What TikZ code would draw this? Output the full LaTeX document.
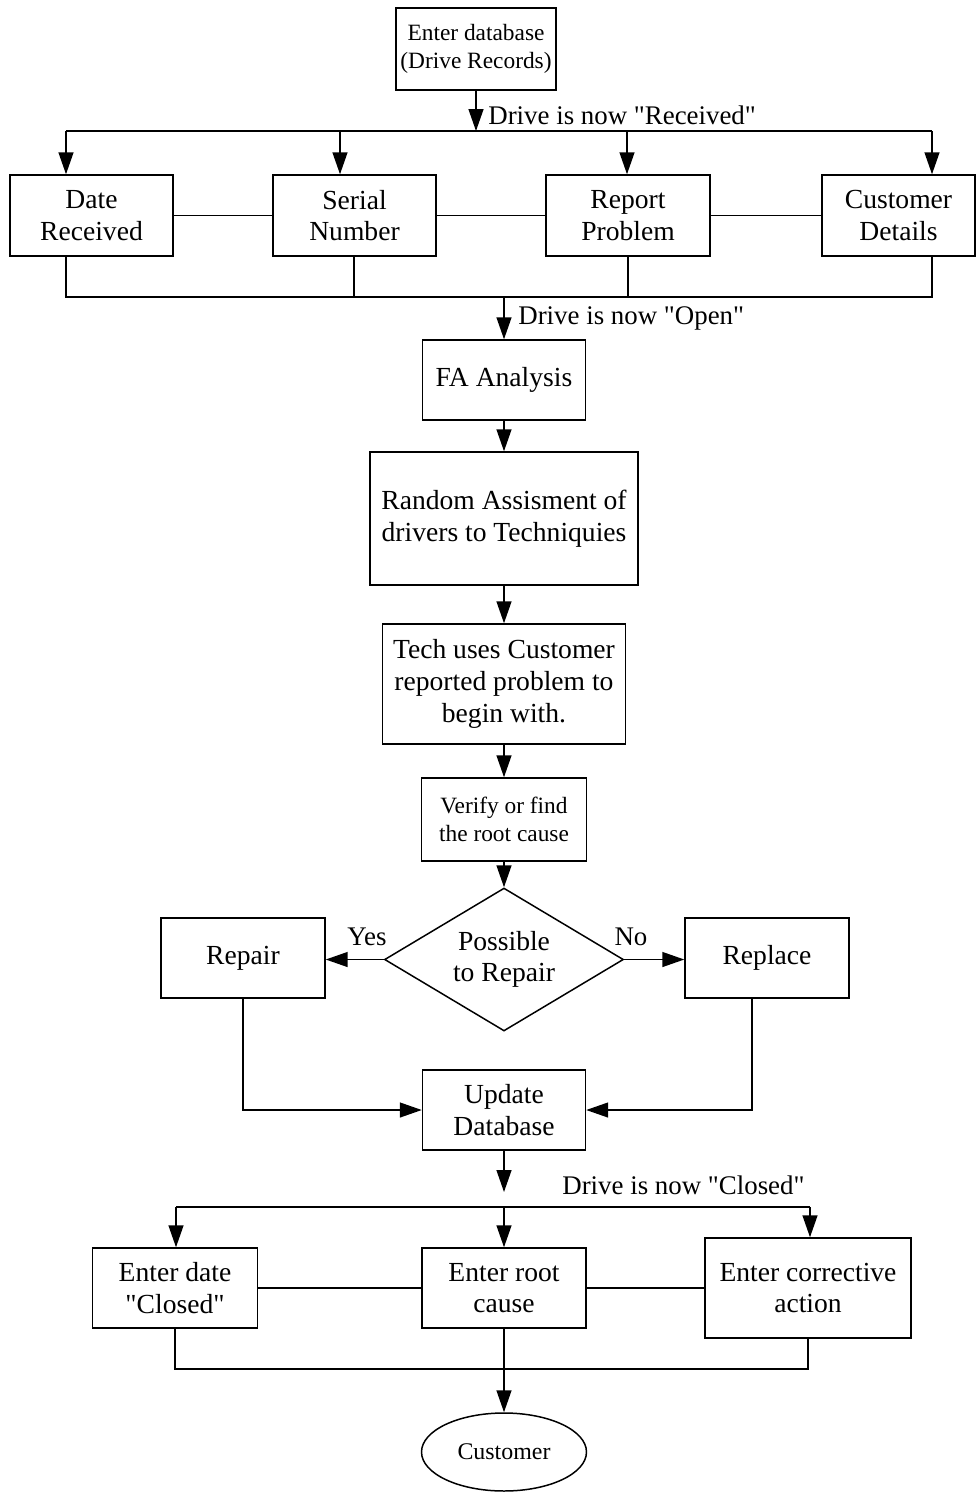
\documentclass[tikz,border=0pt]{standalone}
\usepackage{fontspec}
\setmainfont{Liberation Serif}[Ligatures=TeXOff]
\usetikzlibrary{shapes.geometric,arrows.meta}
\begin{document}
\begin{tikzpicture}[x=0.02cm,y=-0.02cm,
  box/.style={draw, line width=0.85pt, align=center, inner sep=0pt, font=\fontsize{15.7}{18}\selectfont},
  smallbox/.style={box, font=\fontsize{13.3}{15.6}\selectfont},
  ln/.style={line width=0.85pt},
  arr/.style={ln, -{Triangle[length=12.5pt,width=8.5pt]}},
  lbl/.style={font=\fontsize{15.3}{18}\selectfont, inner sep=0pt}]
\useasboundingbox (0,0) rectangle (976,1492);

% nodes
\node[smallbox, minimum width=3.2cm, minimum height=1.64cm] (db) at (476,49) {Enter database\\(Drive Records)};
\node[box, minimum width=3.26cm, minimum height=1.62cm] (dr) at (91.5,215.5) {Date\\Received};
\node[box, minimum width=3.26cm, minimum height=1.62cm] (sn) at (354.5,215.5) {Serial\\Number};
\node[box, minimum width=3.28cm, minimum height=1.62cm] (rp) at (628,215.5) {Report\\Problem};
\node[box, minimum width=3.06cm, minimum height=1.62cm] (cd) at (898.5,215.5) {Customer\\Details};
\node[box, minimum width=3.26cm, minimum height=1.6cm] (fa) at (504,380) {FA Analysis};
\node[box, minimum width=5.36cm, minimum height=2.66cm] (ra) at (504,518.5) {Random Assisment of\\drivers to Techniquies};
\node[box, minimum width=4.86cm, minimum height=2.4cm] (tu) at (504,684) {Tech uses Customer\\reported problem to\\begin with.};
\node[smallbox, minimum width=3.3cm, minimum height=1.66cm] (vf) at (504,819.5) {Verify or find\\the root cause};
\node[box, diamond, aspect=1.67, minimum width=4.78cm, minimum height=2.86cm] (dia) at (504,959.5) {Possible\\to Repair};
\node[box, minimum width=3.28cm, minimum height=1.6cm] (rep) at (243,958) {Repair};
\node[box, minimum width=3.28cm, minimum height=1.6cm] (rpl) at (767,958) {Replace};
\node[box, minimum width=3.26cm, minimum height=1.6cm] (ud) at (504,1110) {Update\\Database};
\node[box, minimum width=3.3cm, minimum height=1.6cm] (ed) at (175,1288) {Enter date\\"Closed"};
\node[box, minimum width=3.28cm, minimum height=1.6cm] (erc) at (504,1288) {Enter root\\cause};
\node[box, minimum width=4.12cm, minimum height=2.0cm] (eca) at (808,1288) {Enter corrective\\action};
\node[box, ellipse, minimum width=3.3cm, minimum height=1.56cm, font=\fontsize{13.6}{16}\selectfont] (cust) at (504,1452) {Customer};

% labels
\node[lbl, anchor=west] (l1) at (488,115) {Drive is now "Received"};
\node[lbl, anchor=west] (l2) at (518,318) {Drive is now "Open"};
\node[lbl, anchor=west] (l3) at (562,1185) {Drive is now "Closed"};
\node[lbl] (yes) at (367,937) {Yes};
\node[lbl] (no) at (631,937) {No};

% top bus
\coordinate (tb) at (476,131);
\coordinate (t1) at (66,131);
\coordinate (t2) at (340,131);
\coordinate (t3) at (627,131);
\coordinate (t4) at (932,131);
\draw[arr] (db.south) -- (tb);
\draw[ln] (t1) -- (t4);
\draw[arr] (t1) -- (t1 |- dr.north);
\draw[arr] (t2) -- (t2 |- sn.north);
\draw[arr] (t3) -- (t3 |- rp.north);
\draw[arr] (t4) -- (t4 |- cd.north);
\draw[ln] (dr.east) -- (sn.west);
\draw[ln] (sn.east) -- (rp.west);
\draw[ln] (rp.east) -- (cd.west);

% lower bus
\coordinate (b1) at (66,297);
\coordinate (b2) at (354,297);
\coordinate (b3) at (628,297);
\coordinate (b4) at (932,297);
\coordinate (bm) at (504,297);
\draw[ln] (b1 |- dr.south) -- (b1) -- (b4) -- (b4 |- cd.south);
\draw[ln] (b2 |- sn.south) -- (b2);
\draw[ln] (b3 |- rp.south) -- (b3);
\draw[arr] (bm) -- (fa.north);

% main chain
\draw[arr] (fa.south) -- (ra.north);
\draw[arr] (ra.south) -- (tu.north);
\draw[arr] (tu.south) -- (vf.north);
\draw[arr] (vf.south) -- (dia.north);
\draw[arr] (dia.west) -- (rep.east |- dia.west);
\draw[arr] (dia.east) -- (rpl.west |- dia.east);
\draw[arr] (rep.south) |- (ud.west);
\draw[arr] ([xshift=-0.3cm]rpl.south) |- (ud.east);

% closing
\coordinate (uc) at (504,1192);
\draw[arr] (ud.south) -- (uc);
\coordinate (c1) at (176,1207);
\coordinate (c2) at (504,1207);
\coordinate (c3) at (810,1207);
\draw[ln] (c1) -- (c3);
\draw[arr] (c1) -- (c1 |- ed.north);
\draw[arr] (c2) -- (erc.north);
\draw[arr] (c3) -- (c3 |- eca.north);
\draw[ln] (ed.east) -- (erc.west);
\draw[ln] (erc.east) -- (eca.west);
\coordinate (e2) at (504,1369);
\draw[ln] (ed.south) |- (e2) -| (eca.south);
\draw[arr] (erc.south) -- (cust.north);
\end{tikzpicture}
\end{document}
